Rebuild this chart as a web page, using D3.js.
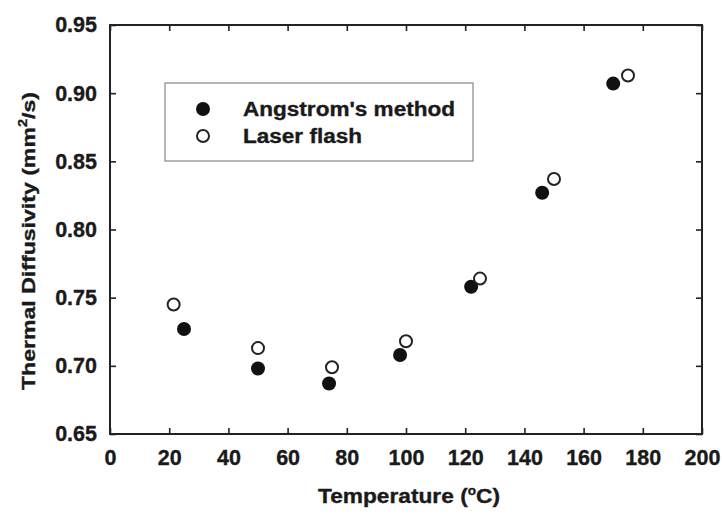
<!DOCTYPE html>
<html lang="en">
<head>
    <meta charset="UTF-8">
    <title>Thermal Diffusivity vs Temperature</title>
    <style>
        body { margin: 0; background: #fff; }
        svg text { font-family: "Liberation Sans", Arial, sans-serif; font-weight: bold; fill: #1a1a1a; stroke: #1a1a1a; stroke-width: 0.35px; }
    </style>
    <script src="https://d3js.org/d3.v7.min.js"></script>
</head>
<body>
    <div id="chart"></div>
    <script>
        // Angstrom's method (filled) and laser flash (open)
        const angTemp = [25, 50, 74, 98, 122, 146, 170];
        const angDiff = [0.727, 0.698, 0.687, 0.708, 0.758, 0.827, 0.907];
        const laserTemp = [21.5, 50, 75, 100, 125, 150, 175];
        const laserDiff = [0.745, 0.713, 0.699, 0.718, 0.764, 0.837, 0.913];

        const xTicks = [0, 20, 40, 60, 80, 100, 120, 140, 160, 180, 200];
        const yTicks = [0.65, 0.70, 0.75, 0.80, 0.85, 0.90, 0.95];

        const W = 724, H = 515;
        const margin = {top: 25, right: 22, bottom: 81, left: 110};

        const svg = d3.select("#chart").append("svg")
            .attr("width", W)
            .attr("height", H);

        const x = d3.scaleLinear().domain([0, 200]).range([margin.left, W - margin.right]);
        const y = d3.scaleLinear().domain([0.65, 0.95]).range([H - margin.bottom, margin.top]);

        const tickLen = 6;
        const axisColor = "#222";

        // inward ticks on all four sides
        const axes = [
            {axis: d3.axisBottom(x).tickValues(xTicks).tickSizeInner(-tickLen).tickSizeOuter(0).tickPadding(16).tickFormat(d3.format("d")), t: `translate(0,${y(0.65)})`, labels: true},
            {axis: d3.axisTop(x).tickValues(xTicks).tickSizeInner(-tickLen).tickSizeOuter(0), t: `translate(0,${y(0.95)})`, labels: false},
            {axis: d3.axisLeft(y).tickValues(yTicks).tickSizeInner(-tickLen).tickSizeOuter(0).tickPadding(13).tickFormat(d3.format(".2f")), t: `translate(${x(0)},0)`, labels: true},
            {axis: d3.axisRight(y).tickValues(yTicks).tickSizeInner(-tickLen).tickSizeOuter(0), t: `translate(${x(200)},0)`, labels: false}
        ];

        axes.forEach(a => {
            const g = svg.append("g").attr("transform", a.t).call(a.axis);
            g.select(".domain").remove();
            g.selectAll(".tick line").attr("stroke", axisColor).attr("stroke-width", 1.6);
            if (a.labels) {
                g.selectAll(".tick text")
                    .attr("font-size", 21.5)
                    .attr("font-family", "Liberation Sans, Arial, sans-serif")
                    .attr("font-weight", "bold")
                    .attr("fill", "#1a1a1a");
            } else {
                g.selectAll(".tick text").remove();
            }
        });

        // frame
        svg.append("rect")
            .attr("x", x(0))
            .attr("y", y(0.95))
            .attr("width", x(200) - x(0))
            .attr("height", y(0.65) - y(0.95))
            .attr("fill", "none")
            .attr("stroke", axisColor)
            .attr("stroke-width", 2);

        // points
        const r = 7;
        svg.selectAll("circle.ang")
            .data(angTemp)
            .enter()
            .append("circle")
            .attr("class", "ang")
            .attr("cx", d => x(d))
            .attr("cy", (d, i) => y(angDiff[i]))
            .attr("r", r)
            .attr("fill", "#111");

        svg.selectAll("circle.laser")
            .data(laserTemp)
            .enter()
            .append("circle")
            .attr("class", "laser")
            .attr("cx", d => x(d))
            .attr("cy", (d, i) => y(laserDiff[i]))
            .attr("r", r - 1)
            .attr("fill", "#fff")
            .attr("stroke", "#222")
            .attr("stroke-width", 2);

        // legend
        svg.append("rect")
            .attr("x", 165).attr("y", 83)
            .attr("width", 308).attr("height", 78)
            .attr("fill", "#fff")
            .attr("stroke", "#888")
            .attr("stroke-width", 1.2);

        svg.append("circle").attr("cx", 203).attr("cy", 109).attr("r", r).attr("fill", "#111");
        svg.append("circle").attr("cx", 203).attr("cy", 136).attr("r", r - 1)
            .attr("fill", "#fff").attr("stroke", "#222").attr("stroke-width", 2);

        svg.append("text").attr("x", 243).attr("y", 116)
            .attr("font-size", 19.5)
            .attr("textLength", 212).attr("lengthAdjust", "spacingAndGlyphs")
            .text("Angstrom's method");
        svg.append("text").attr("x", 243).attr("y", 143)
            .attr("font-size", 19.5)
            .attr("textLength", 119).attr("lengthAdjust", "spacingAndGlyphs")
            .text("Laser flash");

        // axis titles
        const xt = svg.append("text")
            .attr("x", 318).attr("y", 503)
            .attr("font-size", 20)
            .attr("textLength", 182).attr("lengthAdjust", "spacingAndGlyphs");
        xt.append("tspan").text("Temperature (");
        xt.append("tspan").attr("font-size", 12).attr("dy", -8).text("o");
        xt.append("tspan").attr("dy", 8).text("C)");

        const yt = svg.append("text")
            .attr("transform", "translate(35,241) rotate(-90)")
            .attr("text-anchor", "middle")
            .attr("font-size", 19)
            .attr("textLength", 298).attr("lengthAdjust", "spacingAndGlyphs");
        yt.append("tspan").text("Thermal Diffusivity (mm");
        yt.append("tspan").attr("font-size", 12).attr("dy", -8).text("2");
        yt.append("tspan").attr("dy", 8).text("/s)");
    </script>
</body>
</html>
